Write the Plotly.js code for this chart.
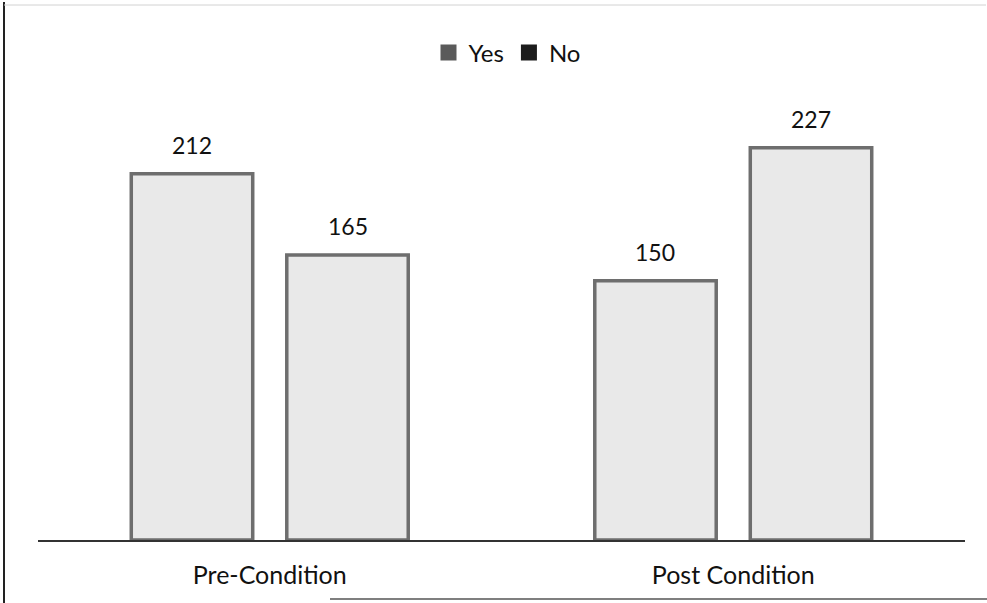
<!DOCTYPE html>
<html>
<head>
<meta charset="utf-8">
<script src="https://cdn.plot.ly/plotly-3.0.1.min.js"></script>
<style>html,body{margin:0;padding:0;background:#fff;}#chart{width:987px;height:603px;}</style>
</head>
<body>
<div id="chart"></div>
<script>
const categories = ["Pre-Condition", "Post Condition"];
const seriesNames = ["Yes", "No"];
const yesValues = [212, 150];
const noValues = [165, 227];

const W = 987, H = 603;
const ml = 38, mr = 22, mt = 108, mb = 63;
const bargap = 0.329, bargroupgap = 0.219;
const plotW = W - ml - mr, plotH = H - mt - mb;
const catW = plotW / categories.length;
const slot = catW * (1 - bargap) / 2;

const FONT = "Lato, 'Open Sans', sans-serif";
const barStyle = {color: "#e9e9e9", line: {color: "#6e6e6e", width: 3.5}};

const series = [yesValues, noValues];
const traces = series.map((vals, i) => ({
  type: "bar", x: categories, y: vals, name: seriesNames[i],
  marker: barStyle, showlegend: false, hoverinfo: "x+y"
}));
const legendColors = ["#5a5a5a", "#1c1c1c"];
seriesNames.forEach((n, i) => traces.push({
  type: "scatter", mode: "markers", x: [null], y: [null], name: n,
  marker: {symbol: "square", size: 16, color: legendColors[i]}, showlegend: true
}));

const annotations = [];
series.forEach((vals, i) => vals.forEach((v, j) => annotations.push({
  x: categories[j], y: v, xref: "x", yref: "y", text: String(v), showarrow: false,
  xshift: (i - 0.5) * slot, yshift: 29, yanchor: "middle",
  font: {family: FONT, size: 23, color: "#111"}
})));

const px = xp => (xp - ml) / plotW;
const py = yp => (H - mb - yp) / plotH;
const shapes = [
  {type: "line", xref: "paper", yref: "paper", x0: px(4), x1: px(4), y0: py(603), y1: py(2), line: {color: "#222", width: 2}},
  {type: "line", xref: "paper", yref: "paper", x0: px(4), x1: px(986), y0: py(5), y1: py(5), line: {color: "#d2d2d2", width: 1}},
  {type: "line", xref: "paper", yref: "paper", x0: px(330), x1: px(987), y0: py(599), y1: py(599), line: {color: "#555", width: 1.5}}
];

const layout = {
  width: W, height: H,
  margin: {l: ml, r: mr, t: mt, b: mb, pad: 0},
  paper_bgcolor: "#fff", plot_bgcolor: "#fff",
  barmode: "group", bargap: bargap, bargroupgap: bargroupgap,
  font: {family: FONT, color: "#111"},
  xaxis: {
    showline: true, linecolor: "#333", linewidth: 2, ticks: "", showgrid: false,
    tickfont: {family: FONT, size: 25, color: "#111"}, ticklabelstandoff: 12, fixedrange: true
  },
  yaxis: {range: [0, 250], visible: false, showgrid: false, zeroline: false, fixedrange: true},
  legend: {
    orientation: "h", x: px(507), xanchor: "center", y: py(53), yanchor: "middle",
    font: {family: FONT, size: 24, color: "#111"}, itemwidth: 30, tracegroupgap: 0
  },
  showlegend: true,
  annotations: annotations,
  shapes: shapes
};

Plotly.newPlot("chart", traces, layout, {displayModeBar: false, staticPlot: true});
</script>
</body>
</html>
